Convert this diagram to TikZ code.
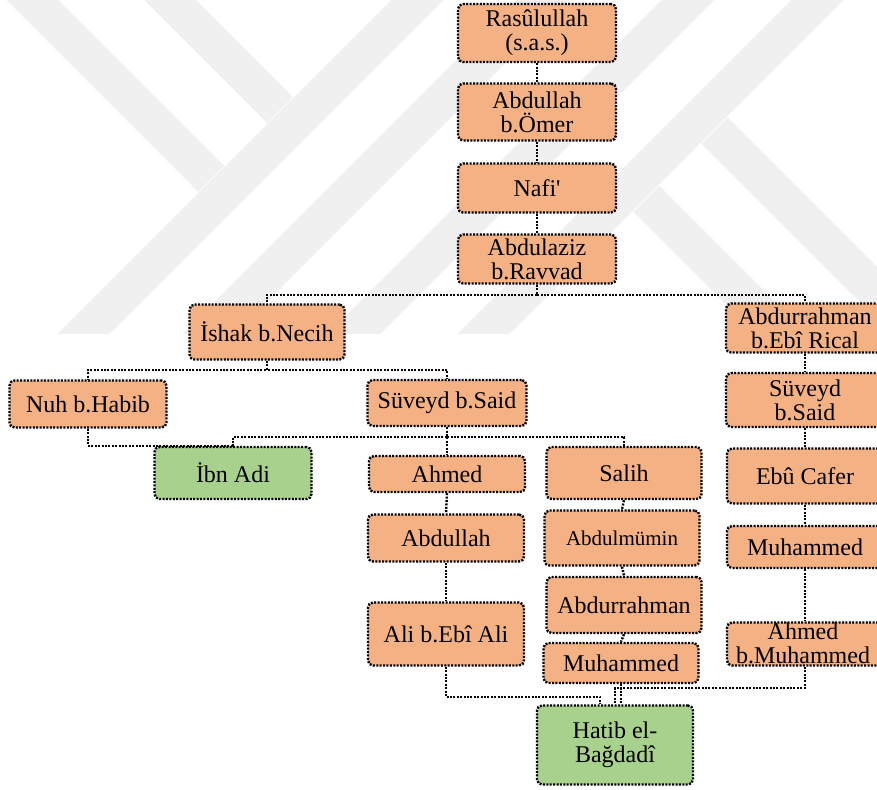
\documentclass[tikz,border=0pt]{standalone}
\usepackage{fontspec}
\setmainfont{Liberation Serif}

\tikzset{
    person/.style={draw, line width=1.2pt, dash pattern=on 1pt off 0.7pt,
        rounded corners=2.5pt, fill=lightorange, align=center, inner sep=0pt,
        font=\fontsize{12}{12}\selectfont},
    author/.style={person, fill=lightgreen},
    link/.style={draw, line width=1.2pt, dash pattern=on 1pt off 0.7pt},
    band/.style={draw=watermark, line width=18.5pt}
}

\begin{document}
\begin{tikzpicture}[x=0.5pt,y=-0.5pt]

    % Colors for the boxes
    \definecolor{lightorange}{RGB}{244,177,131}
    \definecolor{lightgreen}{RGB}{169,209,142}
    \definecolor{watermark}{RGB}{240,240,240}

    \useasboundingbox (0,0) rectangle (877,789);

    % Watermark behind the chain
    \begin{scope}
        \clip (0,0) rectangle (877,333);
        \draw[band] (-27.5,-60) -- (211.25,178.75);
        \draw[band] (110,-60) -- (280,110);
        \draw[band] (477.5,-60) -- (-100,517.5);
        \draw[band] (602.5,-60) -- (-100,642.5);
        \draw[band] (748,-60) -- (0,688);
        \draw[band] (877.5,-60) -- (100,717.5);
        \draw[band] (714.5,130.5) -- (1000,416);
        \draw[band] (646.25,198.75) -- (1000,552.5);
    \end{scope}

    % Main chain
    \node[person, minimum width=79pt, minimum height=29pt] (rasul) at (537,33) {Rasûlullah\\(s.a.s.)};
    \node[person, minimum width=79pt, minimum height=28.5pt] (abdullahO) at (537,112) {Abdullah\\b.Ömer};
    \node[person, minimum width=79pt, minimum height=24.5pt] (nafi) at (537,188) {Nafi\textquotesingle};
    \node[person, minimum width=79pt, minimum height=24.5pt] (abdulaziz) at (537,259) {Abdulaziz\\b.Ravvad};

    % Left branch
    \node[person, minimum width=77.5pt, minimum height=27.5pt] (ishak) at (267,332) {İshak b.Necih};
    \node[person, minimum width=78.5pt, minimum height=23.5pt] (nuh) at (88,404) {Nuh b.Habib};
    \node[person, minimum width=79.5pt, minimum height=23pt] (suveyd) at (447,403) {Süveyd b.Said};
    \node[author, minimum width=78.5pt, minimum height=26pt] (ibnadi) at (233,473) {İbn Adi};
    \node[person, minimum width=78pt, minimum height=18pt] (ahmed) at (447,474) {Ahmed};
    \node[person, minimum width=78pt, minimum height=23.5pt] (abdullah) at (446,538) {Abdullah};
    \node[person, minimum width=78pt, minimum height=31.5pt] (ali) at (446,634) {Ali b.Ebî Ali};
    \node[person, minimum width=77.5pt, minimum height=26pt] (salih) at (624,473) {Salih};
    \node[person, minimum width=77.5pt, minimum height=27.5pt, font=\fontsize{10.5}{11}\selectfont] (abdulmumin) at (622,538) {Abdulmümin};
    \node[person, minimum width=77.5pt, minimum height=28pt] (abdurrahman) at (624,605) {Abdurrahman};
    \node[person, minimum width=77.5pt, minimum height=20pt] (muhM) at (621,663) {Muhammed};

    % Right branch
    \node[person, minimum width=79pt, minimum height=24.5pt] (rical) at (805,328) {Abdurrahman\\b.Ebî Rical};
    \node[person, minimum width=79pt, minimum height=27pt] (suveydR) at (805,400) {Süveyd\\b.Said};
    \node[person, minimum width=78pt, minimum height=27.5pt] (ebucafer) at (805,476) {Ebû Cafer};
    \node[person, minimum width=78pt, minimum height=21pt] (muhR) at (805,547) {Muhammed};
    \node[person, minimum width=78pt, minimum height=21.5pt] (ahmedM) at (805,644) {};
    \node[align=center, inner sep=0pt, font=\fontsize{12}{12}\selectfont] (ahmedMtext) at (803,643) {Ahmed\\b.Muhammed};

    % Hatib
    \node[author, minimum width=78pt, minimum height=39.5pt] (hatib) at (615,745) {Hatib el-\\Bağdadî};

    % Links
    \draw[link] (rasul.south) -- (abdullahO.north);
    \draw[link] (abdullahO.south) -- (nafi.north);
    \draw[link] (nafi.south) -- (abdulaziz.north);
    \draw[link] (abdulaziz.south) -- ++(0,10) -| (ishak.north);
    \draw[link] (abdulaziz.south) -- ++(0,10) -| (rical.north);
    \draw[link] (ishak.south) -- ++(0,9) -| (nuh.north);
    \draw[link] (ishak.south) -- ++(0,9) -| (suveyd.north);
    \draw[link] (nuh.south) -- ++(0,17) -| (ibnadi.north);
    \draw[link] (suveyd.south) -- ++(0,10) -| (ibnadi.north);
    \draw[link] (suveyd.south) -- ++(0,10) -| (salih.north);
    \draw[link] (suveyd.south) -- (ahmed.north);
    \draw[link] (ahmed.south) -- (abdullah.north);
    \draw[link] (abdullah.south) -- (ali.north);
    \draw[link] (salih.south) -- (abdulmumin.north);
    \draw[link] (abdulmumin.south) -- (abdurrahman.north);
    \draw[link] (abdurrahman.south) -- (muhM.north);
    \draw[link] (rical.south) -- (suveydR.north);
    \draw[link] (suveydR.south) -- (ebucafer.north);
    \draw[link] (ebucafer.south) -- (muhR.north);
    \draw[link] (muhR.south) -- (ahmedM.north);
    \draw[link] (ali.south) -- ++(0,30) -| (hatib.110);
    \draw[link] (muhM.south) -- (muhM.south |- hatib.north);
    \draw[link] (ahmedM.south) -- ++(0,21) -| (hatib.north);

\end{tikzpicture}
\end{document}
